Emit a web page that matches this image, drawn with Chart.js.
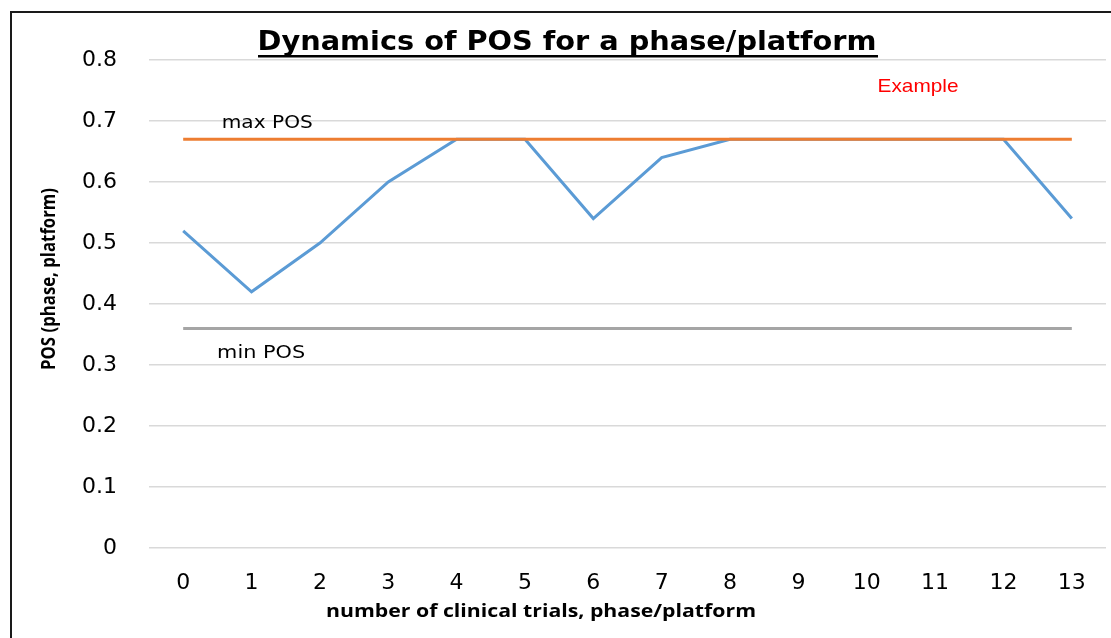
<!DOCTYPE html>
<html>
<head>
<meta charset="utf-8">
<script src="https://cdn.jsdelivr.net/npm/chart.js@4/dist/chart.umd.min.js"></script>
<style>
  html, body { margin: 0; padding: 0; background: #ffffff; }
  #wrap { width: 1111px; height: 638px; position: relative; }
</style>
</head>
<body>
<div id="wrap"><canvas id="c" width="1111" height="638"></canvas></div>
<script>
// ---- data ----
const categories = ['0','1','2','3','4','5','6','7','8','9','10','11','12','13'];
const posValues  = [0.52, 0.42, 0.50, 0.60, 0.67, 0.67, 0.54, 0.64, 0.67, 0.67, 0.67, 0.67, 0.67, 0.54];
const maxPOS = 0.67;
const minPOS = 0.36;
const maxValues = categories.map(() => maxPOS);
const minValues = categories.map(() => minPOS);
const yTicks = [0, 0.1, 0.2, 0.3, 0.4, 0.5, 0.6, 0.7, 0.8];

const chartTitle = 'Dynamics of POS for a phase/platform';
const xTitle = 'number of clinical trials, phase/platform';
const yTitle = 'POS (phase, platform)';
const maxLabel = 'max POS';
const minLabel = 'min POS';
const exampleLabel = 'Example';

function fitText(ctx, text, cx, cy, font, color, targetW) {
  ctx.save();
  ctx.font = font;
  ctx.fillStyle = color;
  ctx.textAlign = 'center';
  ctx.textBaseline = 'middle';
  const w = ctx.measureText(text).width;
  const s = targetW ? targetW / w : 1;
  ctx.translate(cx, cy);
  ctx.scale(s, 1);
  ctx.fillText(text, 0, 0);
  ctx.restore();
}

const decor = {
  id: 'decor',
  afterDraw(chart) {
    const ctx = chart.ctx;
    const xs = chart.scales.x, ys = chart.scales.y;
    // frame
    ctx.save();
    ctx.strokeStyle = '#1a1a1a';
    ctx.lineWidth = 2;
    ctx.beginPath();
    ctx.moveTo(11, 638);
    ctx.lineTo(11, 12);
    ctx.lineTo(1111, 12);
    ctx.stroke();
    ctx.restore();

    // title with underline
    fitText(ctx, chartTitle, 567, 43, 'bold 27px "DejaVu Sans"', '#000', 619);
    ctx.save();
    ctx.fillStyle = '#000';
    ctx.fillRect(258, 55, 620, 2.5);
    ctx.restore();

    // axis titles
    fitText(ctx, xTitle, 541, 612, 'bold 18px "Open Sans"', '#000', 430);
    ctx.save();
    ctx.translate(50, 279);
    ctx.rotate(-Math.PI / 2);
    fitText(ctx, yTitle, 0, 0, 'bold 19px "Open Sans"', '#000', 182);
    ctx.restore();

    // annotations
    fitText(ctx, maxLabel, xs.getPixelForValue(1.23), ys.getPixelForValue(0.696), '17px "DejaVu Sans"', '#000', 91);
    fitText(ctx, minLabel, xs.getPixelForValue(1.14), ys.getPixelForValue(0.319), '17px "DejaVu Sans"', '#000', 88);
    fitText(ctx, exampleLabel, xs.getPixelForValue(10.75), ys.getPixelForValue(0.756), '19px "Liberation Sans"', '#ff0000', 81);
  }
};

new Chart(document.getElementById('c'), {
  type: 'line',
  data: {
    labels: categories,
    datasets: [
      { label: 'POS', data: posValues, borderColor: '#5b9bd5', borderWidth: 3, pointRadius: 0, tension: 0, order: 3 },
      { label: 'max POS', data: maxValues, borderColor: '#ed7d31', borderWidth: 3, pointRadius: 0, tension: 0, order: 2 },
      { label: 'min POS', data: minValues, borderColor: '#a5a5a5', borderWidth: 3, pointRadius: 0, tension: 0, order: 1 }
    ]
  },
  options: {
    responsive: false,
    animation: false,
    events: [],
    layout: { padding: { top: 60, right: 5, left: 0, bottom: 0 } },
    plugins: { legend: { display: false }, tooltip: { enabled: false }, title: { display: false } },
    scales: {
      x: {
        offset: true,
        grid: { display: false, drawTicks: false },
        border: { display: false },
        ticks: { padding: 22, color: '#000', font: { family: 'DejaVu Sans', size: 22 }, maxRotation: 0, autoSkip: false },
        afterFit(s) { s.height = 90; }
      },
      y: {
        min: 0, max: 0.8,
        afterBuildTicks(s) { s.ticks = yTicks.map(v => ({ value: v })); },
        grid: { color: '#d9d9d9', lineWidth: 1.5, drawTicks: false },
        border: { display: false },
        ticks: { padding: 32, color: '#000', font: { family: 'DejaVu Sans', size: 22 },
          callback: v => (v === 0 ? '0' : v.toFixed(1)) },
        afterFit(s) { s.width = 149; }
      }
    }
  },
  plugins: [decor]
});
</script>
</body>
</html>
